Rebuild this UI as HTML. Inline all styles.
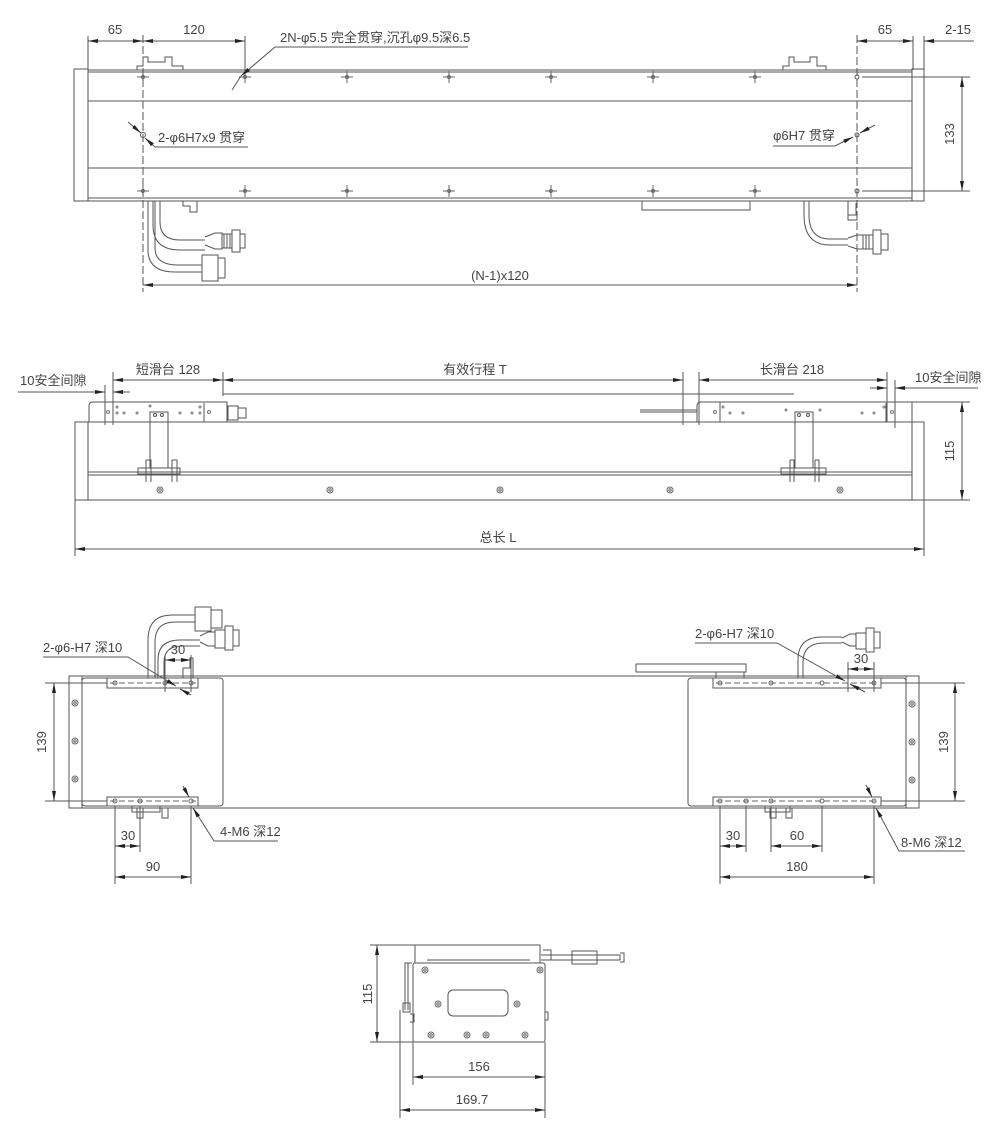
<!DOCTYPE html>
<html><head><meta charset="utf-8"><style>
html,body{margin:0;padding:0;background:#fff;}
svg{display:block}
text{font-family:"Liberation Sans","Noto Sans CJK SC",sans-serif;font-size:13px;fill:#444;}
</style></head><body>
<svg width="1000" height="1134" viewBox="0 0 1000 1134" xmlns="http://www.w3.org/2000/svg">
<defs>
<marker id="a" viewBox="0 0 10 4" refX="10" refY="2" markerWidth="10" markerHeight="4" markerUnits="userSpaceOnUse" orient="auto-start-reverse"><path d="M0,0L10,2L0,4z" fill="#222"/></marker>
<g id="cross"><line x1="-6" y1="0" x2="6" y2="0"/><line x1="0" y1="-6" x2="0" y2="6"/><circle r="1.5"/></g>
<g id="scr"><circle r="3"/><circle r="1.2"/></g>
</defs>
<g stroke="#555" stroke-width="1" fill="none">
<!-- ===== VIEW 1 ===== -->
<rect x="74" y="69" width="14" height="132"/>
<rect x="912" y="69" width="12" height="132"/>
<line x1="88" y1="70" x2="912" y2="70"/><line x1="88" y1="72" x2="912" y2="72"/>
<line x1="88" y1="101" x2="912" y2="101"/><line x1="88" y1="168" x2="912" y2="168"/>
<line x1="88" y1="198" x2="912" y2="198"/><line x1="88" y1="201" x2="912" y2="201"/>
<g stroke="#666">
<use href="#cross" x="143" y="77"/><use href="#cross" x="245" y="77"/><use href="#cross" x="347" y="77"/><use href="#cross" x="449" y="77"/><use href="#cross" x="551" y="77"/><use href="#cross" x="653" y="77"/><use href="#cross" x="755" y="77"/>
<use href="#cross" x="143" y="191"/><use href="#cross" x="245" y="191"/><use href="#cross" x="347" y="191"/><use href="#cross" x="449" y="191"/><use href="#cross" x="551" y="191"/><use href="#cross" x="653" y="191"/><use href="#cross" x="755" y="191"/>
</g>
<circle cx="857" cy="77" r="2"/><circle cx="857" cy="191" r="2"/><circle cx="143" cy="135" r="2.5"/><circle cx="857" cy="135" r="2"/>
<line x1="143" y1="35" x2="143" y2="292" stroke-dasharray="8,3"/>
<line x1="857" y1="35" x2="857" y2="292" stroke-dasharray="8,3"/>
<path d="M137,70V66H143V57H148V62H165V57H172V66H183V70"/>
<path d="M783,70V66H789V57H794V62H810V57H817V66H826V70"/>
<rect x="642" y="201" width="108" height="9"/><path d="M750,201V210"/>
<path d="M153,201V225Q153,250 180,250H205"/><path d="M160,201V222Q160,240 180,240H205"/>
<path d="M148,201V250Q148,272 175,272H202"/><path d="M155,201V248Q155,265 178,265H202"/>
<path d="M183,201V206H190V212H197V201"/>
<path d="M205,237L215,233H222V249H215L205,245"/><rect x="222" y="234" width="10" height="14"/>
<line x1="224" y1="234" x2="224" y2="248"/><line x1="227" y1="234" x2="227" y2="248"/><line x1="230" y1="234" x2="230" y2="248"/>
<rect x="232" y="230" width="8" height="22"/><path d="M240,234H245V248H240"/>
<rect x="202" y="255" width="16" height="26"/><path d="M218,258H225V278H218"/>
<path d="M804,201V215Q804,245 830,245H848"/><path d="M809,201V215Q809,239 830,239H848"/>
<path d="M848,201V215H856V203M848,215V220H857V215"/>
<path d="M848,238L857,235H863V249H857L848,246"/><rect x="863" y="235" width="10" height="14"/>
<line x1="866" y1="235" x2="866" y2="249"/><line x1="869" y1="235" x2="869" y2="249"/>
<rect x="873" y="230" width="8" height="24"/><path d="M881,234H888V250H881"/>
<line x1="88" y1="36" x2="88" y2="70"/><line x1="245" y1="36" x2="245" y2="72"/>
<line x1="913" y1="36" x2="913" y2="70"/><line x1="924" y1="36" x2="924" y2="70"/>
<line x1="88" y1="41" x2="143" y2="41" marker-start="url(#a)" marker-end="url(#a)"/>
<line x1="143" y1="41" x2="245" y2="41" marker-start="url(#a)" marker-end="url(#a)"/>
<line x1="857" y1="41" x2="913" y2="41" marker-start="url(#a)" marker-end="url(#a)"/>
<line x1="924" y1="41" x2="974" y2="41" marker-start="url(#a)"/>
<line x1="862" y1="77" x2="970" y2="77"/><line x1="862" y1="191" x2="970" y2="191"/>
<line x1="962" y1="77" x2="962" y2="191" marker-start="url(#a)" marker-end="url(#a)"/>
<line x1="143" y1="285" x2="857" y2="285" marker-start="url(#a)" marker-end="url(#a)"/>
<path d="M468,47H275L241,76" marker-end="url(#a)"/><line x1="241" y1="76" x2="232" y2="90"/>
<path d="M248,147H155L145,138" marker-end="url(#a)"/><line x1="128" y1="122" x2="141" y2="133" marker-end="url(#a)"/>
<path d="M773,146H835L853,137" marker-end="url(#a)"/><line x1="875" y1="125" x2="860" y2="133" marker-end="url(#a)"/>

<!-- ===== VIEW 2 ===== -->
<rect x="75" y="422" width="13" height="78"/>
<rect x="88" y="422" width="824" height="78"/>
<rect x="912" y="422" width="12" height="78"/>
<line x1="88" y1="472" x2="912" y2="472"/><line x1="88" y1="475" x2="912" y2="475"/>
<g stroke="#666"><use href="#scr" x="160" y="490"/><use href="#scr" x="330" y="490"/><use href="#scr" x="500" y="490"/><use href="#scr" x="670" y="490"/><use href="#scr" x="840" y="490"/></g>
<path d="M89,422V406Q89,402 93,402H227V422"/>
<line x1="113" y1="402" x2="113" y2="422"/><line x1="204" y1="403" x2="204" y2="422"/>
<rect x="228" y="406" width="10" height="14"/><rect x="238" y="408" width="8" height="10"/>
<g stroke="#777"><circle cx="108" cy="412" r="1.5"/><circle cx="117" cy="407" r="1"/><circle cx="117" cy="413" r="1"/><circle cx="124" cy="413" r="1"/><circle cx="137" cy="413" r="1"/><circle cx="150" cy="406" r="1"/><circle cx="180" cy="413" r="1"/><circle cx="192" cy="413" r="1"/><circle cx="200" cy="407" r="1"/><circle cx="200" cy="413" r="1"/><circle cx="209" cy="412" r="1.5"/></g>
<rect x="150" y="412" width="18" height="56"/><circle cx="155" cy="415" r="1.5"/><circle cx="162" cy="415" r="1.5"/>
<path d="M138,468H180V474H138Z"/><path d="M146,460H151V482M146,460V482M172,460H177V482M172,460V482"/>
<path d="M697,422V406Q697,402 701,402H912V422"/>
<line x1="720" y1="402" x2="720" y2="422"/><line x1="886" y1="403" x2="886" y2="422"/>
<line x1="640" y1="410" x2="697" y2="410"/><line x1="640" y1="412" x2="697" y2="412"/>
<g stroke="#777"><circle cx="715" cy="412" r="1.5"/><circle cx="723" cy="407" r="1"/><circle cx="730" cy="413" r="1"/><circle cx="743" cy="413" r="1"/><circle cx="786" cy="410" r="1"/><circle cx="820" cy="410" r="1"/><circle cx="862" cy="413" r="1"/><circle cx="874" cy="413" r="1"/><circle cx="884" cy="407" r="1"/><circle cx="892" cy="412" r="1.5"/></g>
<rect x="795" y="412" width="18" height="56"/><circle cx="799" cy="415" r="1.5"/><circle cx="808" cy="415" r="1.5"/>
<path d="M781,468H826V474H781Z"/><path d="M790,460H794V482M790,460V482M815,460H819V482M815,460V482"/>
<line x1="105" y1="385" x2="105" y2="425"/><line x1="113" y1="372" x2="113" y2="425"/>
<line x1="223" y1="372" x2="223" y2="396"/><line x1="683" y1="372" x2="683" y2="425"/>
<line x1="699" y1="372" x2="699" y2="425"/><line x1="887" y1="372" x2="887" y2="422"/><line x1="895" y1="380" x2="895" y2="428"/>
<line x1="113" y1="380" x2="223" y2="380" marker-start="url(#a)" marker-end="url(#a)"/>
<line x1="223" y1="380" x2="683" y2="380" marker-start="url(#a)" marker-end="url(#a)"/>
<line x1="699" y1="380" x2="887" y2="380" marker-start="url(#a)" marker-end="url(#a)"/>
<line x1="223" y1="394" x2="794" y2="394"/>
<line x1="18" y1="392" x2="105" y2="392" marker-end="url(#a)"/><line x1="130" y1="392" x2="113" y2="392" marker-end="url(#a)"/>
<line x1="870" y1="388" x2="887" y2="388" marker-end="url(#a)"/><line x1="978" y1="388" x2="895" y2="388" marker-end="url(#a)"/>
<line x1="912" y1="402" x2="970" y2="402"/><line x1="924" y1="500" x2="970" y2="500"/>
<line x1="962" y1="402" x2="962" y2="500" marker-start="url(#a)" marker-end="url(#a)"/>
<line x1="75" y1="500" x2="75" y2="556"/><line x1="924" y1="500" x2="924" y2="556"/>
<line x1="75" y1="549" x2="924" y2="549" marker-start="url(#a)" marker-end="url(#a)"/>

<!-- ===== VIEW 3 ===== -->
<line x1="69" y1="676" x2="919" y2="676"/><line x1="69" y1="808" x2="919" y2="808"/>
<rect x="69" y="676" width="13" height="132"/><rect x="906" y="676" width="13" height="132"/>
<g stroke="#666"><use href="#scr" x="75" y="703"/><use href="#scr" x="75" y="741"/><use href="#scr" x="75" y="779"/><use href="#scr" x="912" y="704"/><use href="#scr" x="912" y="742"/><use href="#scr" x="912" y="780"/></g>
<rect x="82" y="678" width="141" height="128" rx="3" fill="#fff"/>
<rect x="688" y="678" width="218" height="128" rx="3" fill="#fff"/>
<rect x="107" y="678" width="91" height="10"/><rect x="107" y="797" width="91" height="9"/>
<rect x="713" y="678" width="168" height="10"/><rect x="713" y="797" width="168" height="9"/>
<g stroke="#666">
<circle cx="115" cy="683" r="2"/><circle cx="165" cy="683" r="2"/><circle cx="191" cy="683" r="2"/>
<circle cx="115" cy="801" r="2"/><circle cx="140" cy="801" r="2"/><circle cx="191" cy="801" r="2"/>
<circle cx="720" cy="683" r="2"/><circle cx="771" cy="683" r="2"/><circle cx="822" cy="683" r="2"/><circle cx="874" cy="683" r="2"/>
<circle cx="720" cy="801" r="2"/><circle cx="746" cy="801" r="2"/><circle cx="771" cy="801" r="2"/><circle cx="822" cy="801" r="2"/><circle cx="874" cy="801" r="2"/>
<line x1="110" y1="683" x2="196" y2="683" stroke-dasharray="6,3"/><line x1="110" y1="801" x2="196" y2="801" stroke-dasharray="6,3"/>
<line x1="716" y1="683" x2="878" y2="683" stroke-dasharray="6,3"/><line x1="716" y1="801" x2="878" y2="801" stroke-dasharray="6,3"/>
</g>
<path d="M132,806V812H160V806M137,808H143V818H137ZM162,808H168V818H162Z"/>
<path d="M765,806V812H790V806M770,808H776V818H770ZM786,808H792V818H786Z"/>
<path d="M183,678V668H190V658H193V678"/>
<rect x="636" y="664" width="110" height="8"/><path d="M716,672V678M744,672V678"/>
<path d="M148,678V640Q148,615 172,615H195"/><path d="M155,678V642Q155,622 175,622H195"/>
<path d="M158,678V660Q158,640 180,640H200"/><path d="M164,678V662Q164,646 182,646H200"/>
<rect x="195" y="607" width="16" height="24"/><path d="M211,610H222V628H211"/>
<path d="M200,636L208,632H215V646H208L200,642"/><rect x="215" y="630" width="10" height="18"/><rect x="225" y="626" width="8" height="24"/><path d="M233,630H239V646H233"/>
<path d="M798,678V660Q798,637 822,637H842"/><path d="M803,678V662Q803,643 824,643H842"/>
<path d="M842,638L850,634H856V646H850L842,642"/><rect x="856" y="633" width="10" height="16"/><rect x="866" y="628" width="8" height="24"/><path d="M874,632H880V648H874"/>
<line x1="45" y1="683" x2="107" y2="683"/><line x1="45" y1="801" x2="107" y2="801"/>
<line x1="54" y1="683" x2="54" y2="801" marker-start="url(#a)" marker-end="url(#a)"/>
<line x1="881" y1="683" x2="965" y2="683"/><line x1="881" y1="801" x2="965" y2="801"/>
<line x1="955" y1="683" x2="955" y2="801" marker-start="url(#a)" marker-end="url(#a)"/>
<line x1="165" y1="655" x2="165" y2="692"/><line x1="191" y1="655" x2="191" y2="692"/>
<line x1="165" y1="660" x2="191" y2="660" marker-start="url(#a)" marker-end="url(#a)"/>
<line x1="848" y1="662" x2="848" y2="692"/><line x1="874" y1="662" x2="874" y2="692"/>
<line x1="848" y1="669" x2="874" y2="669" marker-start="url(#a)" marker-end="url(#a)"/>
<path d="M43,657H128L176,686" marker-end="url(#a)"/><line x1="191" y1="695" x2="180" y2="689" marker-end="url(#a)"/>
<path d="M695,643H777L845,681" marker-end="url(#a)"/><line x1="865" y1="692" x2="850" y2="684" marker-end="url(#a)"/>
<line x1="183" y1="786" x2="189" y2="797" marker-end="url(#a)"/><path d="M278,841H214L193,808" marker-end="url(#a)"/>
<line x1="866" y1="785" x2="872" y2="797" marker-end="url(#a)"/><path d="M965,851H899L876,808" marker-end="url(#a)"/>
<line x1="115" y1="806" x2="115" y2="884"/><line x1="140" y1="806" x2="140" y2="852"/><line x1="191" y1="806" x2="191" y2="884"/>
<line x1="115" y1="846" x2="140" y2="846" marker-start="url(#a)" marker-end="url(#a)"/>
<line x1="115" y1="877" x2="191" y2="877" marker-start="url(#a)" marker-end="url(#a)"/>
<line x1="720" y1="806" x2="720" y2="884"/><line x1="746" y1="806" x2="746" y2="852"/><line x1="771" y1="806" x2="771" y2="852"/><line x1="822" y1="806" x2="822" y2="852"/><line x1="874" y1="806" x2="874" y2="884"/>
<line x1="720" y1="846" x2="746" y2="846" marker-start="url(#a)" marker-end="url(#a)"/>
<line x1="771" y1="846" x2="822" y2="846" marker-start="url(#a)" marker-end="url(#a)"/>
<line x1="720" y1="877" x2="874" y2="877" marker-start="url(#a)" marker-end="url(#a)"/>

<!-- ===== VIEW 4 ===== -->
<rect x="415" y="945" width="125" height="18"/>
<line x1="427" y1="960" x2="530" y2="960"/>
<rect x="413" y="963" width="132" height="79" rx="2" fill="#fff"/>
<rect x="448" y="990" width="60" height="26" rx="5"/>
<g stroke="#666"><use href="#scr" x="425" y="970"/><use href="#scr" x="540" y="970"/><use href="#scr" x="438" y="1004"/><use href="#scr" x="517" y="1004"/><use href="#scr" x="431" y="1035"/><use href="#scr" x="467" y="1035"/><use href="#scr" x="486" y="1035"/><use href="#scr" x="525" y="1035"/></g>
<path d="M541,955H620V960H541M572,951H597V964H572ZM620,953H624V962H620M543,950H551V960"/>
<path d="M412,963H405V1010M408,963V1010M403,1003H410V1012H403ZM410,1014H414V1022H410M545,1012H548V1020H545"/>
<line x1="370" y1="945" x2="420" y2="945"/><line x1="370" y1="1042" x2="413" y2="1042"/>
<line x1="377" y1="945" x2="377" y2="1042" marker-start="url(#a)" marker-end="url(#a)"/>
<line x1="400" y1="1010" x2="400" y2="1118"/><line x1="413" y1="1042" x2="413" y2="1085"/><line x1="545" y1="1042" x2="545" y2="1118"/>
<line x1="413" y1="1077" x2="545" y2="1077" marker-start="url(#a)" marker-end="url(#a)"/>
<line x1="400" y1="1110" x2="545" y2="1110" marker-start="url(#a)" marker-end="url(#a)"/>
</g>

<g>
<text x="115" y="34" text-anchor="middle">65</text>
<text x="194" y="34" text-anchor="middle">120</text>
<text x="885" y="34" text-anchor="middle">65</text>
<text x="958" y="34" text-anchor="middle">2-15</text>
<text x="280" y="42">2N-φ5.5 完全贯穿,沉孔φ9.5深6.5</text>
<text x="158" y="142">2-φ6H7x9 贯穿</text>
<text x="773" y="140">φ6H7 贯穿</text>
<text transform="translate(954,134) rotate(-90)" text-anchor="middle">133</text>
<text x="500" y="280" text-anchor="middle">(N-1)x120</text>

<text x="20" y="385">10安全间隙</text>
<text x="168" y="374" text-anchor="middle">短滑台 128</text>
<text x="475" y="374" text-anchor="middle">有效行程 T</text>
<text x="792" y="374" text-anchor="middle">长滑台 218</text>
<text x="915" y="382">10安全间隙</text>
<text transform="translate(954,451) rotate(-90)" text-anchor="middle">115</text>
<text x="498" y="542" text-anchor="middle">总长 L</text>

<text x="43" y="652">2-φ6-H7 深10</text>
<text x="178" y="654" text-anchor="middle">30</text>
<text transform="translate(46,742) rotate(-90)" text-anchor="middle">139</text>
<text x="220" y="836">4-M6 深12</text>
<text x="128" y="840" text-anchor="middle">30</text>
<text x="153" y="871" text-anchor="middle">90</text>
<text x="695" y="638">2-φ6-H7 深10</text>
<text x="861" y="663" text-anchor="middle">30</text>
<text transform="translate(948,742) rotate(-90)" text-anchor="middle">139</text>
<text x="901" y="847">8-M6 深12</text>
<text x="733" y="840" text-anchor="middle">30</text>
<text x="797" y="840" text-anchor="middle">60</text>
<text x="797" y="871" text-anchor="middle">180</text>

<text transform="translate(372,994) rotate(-90)" text-anchor="middle">115</text>
<text x="479" y="1071" text-anchor="middle">156</text>
<text x="472" y="1104" text-anchor="middle">169.7</text>
</g>
</svg>
</body></html>
